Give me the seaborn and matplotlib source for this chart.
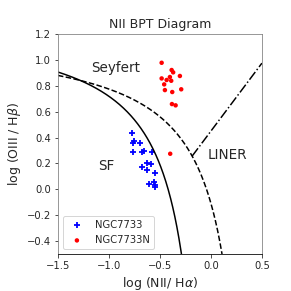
import numpy as np
import pandas as pd
import seaborn as sns
import matplotlib.pyplot as plt

# datos
ngc7733_x = [-0.778, -0.755, -0.762, -0.696, -0.768, -0.680, -0.657, -0.578, -0.680,
             -0.625, -0.591, -0.625, -0.552, -0.611, -0.556, -0.549, -0.552]
ngc7733_y = [0.433, 0.375, 0.355, 0.360, 0.290, 0.288, 0.296, 0.286, 0.175,
             0.200, 0.193, 0.149, 0.128, 0.041, 0.054, 0.033, 0.020]
ngc7733n_x = [-0.483, -0.385, -0.370, -0.483, -0.402, -0.434, -0.389, -0.304,
              -0.458, -0.451, -0.379, -0.291, -0.382, -0.346, -0.399]
ngc7733n_y = [0.978, 0.922, 0.904, 0.857, 0.868, 0.845, 0.839, 0.876,
              0.811, 0.767, 0.752, 0.773, 0.659, 0.649, 0.275]

df = pd.concat([
    pd.DataFrame({"x": ngc7733_x, "y": ngc7733_y, "obj": "NGC7733"}),
    pd.DataFrame({"x": ngc7733n_x, "y": ngc7733n_y, "obj": "NGC7733N"}),
])

sns.set_style("ticks")
fig = plt.figure(figsize=(291 / 72, 291 / 72), dpi=72)
ax = fig.add_axes([0.199, 0.127, 0.701, 0.756])

# lineas de separacion (Kauffmann 2003, Kewley 2001, Schawinski 2007)
xk = np.linspace(-1.5, -0.289, 300)
ax.plot(xk, 0.61 / (xk - 0.05) + 1.3, color="k", lw=1.5)
xw = np.linspace(-1.5, 0.109, 300)
ax.plot(xw, 0.61 / (xw - 0.47) + 1.19, color="k", lw=1.5, ls="--")
xs = np.linspace(-0.183, 0.5, 50)
ax.plot(xs, 1.05 * xs + 0.45, color="k", lw=1.5, ls="-.")

sns.scatterplot(data=df[df.obj == "NGC7733"], x="x", y="y", ax=ax, marker="+",
                color="blue", s=45, linewidth=1.8, label="NGC7733")
sns.scatterplot(data=df[df.obj == "NGC7733N"], x="x", y="y", ax=ax, marker="o",
                color="red", s=20, edgecolor="none", label="NGC7733N")

ax.text(-1.17, 0.91, "Seyfert", fontsize=13.5)
ax.text(-1.11, 0.15, "SF", fontsize=13.5)
ax.text(-0.03, 0.235, "LINER", fontsize=13.5)

ax.set_xlim(-1.5, 0.5)
ax.set_ylim(-0.5, 1.2)
ax.set_xticks([-1.5, -1.0, -0.5, 0.0, 0.5])
ax.set_yticks(np.arange(-0.4, 1.21, 0.2))
ax.tick_params(labelsize=10)
ax.set_xlabel("log (NII/ H$\\alpha$)", fontsize=12.5)
ax.set_ylabel("log (OIII / H$\\beta$)", fontsize=12.5)
ax.set_title("NII BPT Diagram", fontsize=12.5)
for s in ax.spines.values():
    s.set_color("0.5")
ax.spines["bottom"].set_color("k")
ax.legend(loc="lower left", fontsize=10)

plt.savefig("out.png", dpi=72)
